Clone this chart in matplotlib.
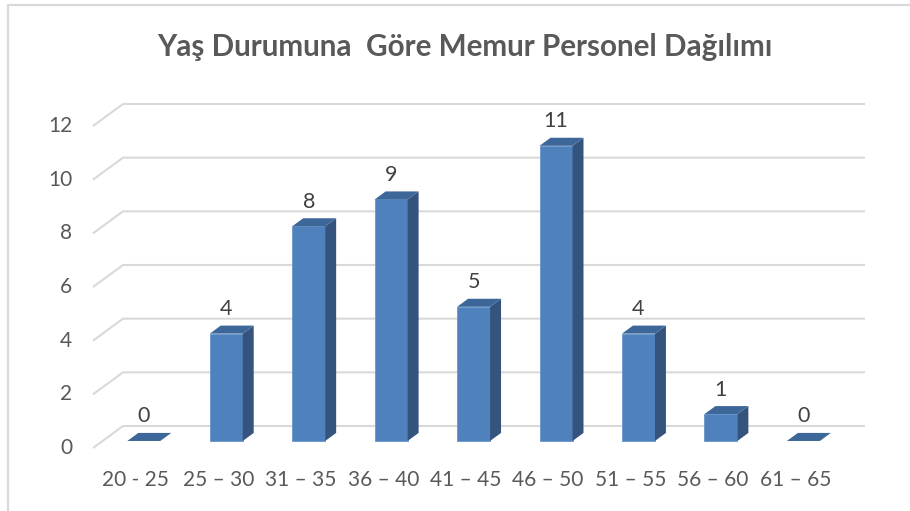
import matplotlib
matplotlib.use("Agg")
import matplotlib.pyplot as plt
from matplotlib.patches import Polygon
from matplotlib.lines import Line2D

plt.rcParams['font.family'] = ['Lato', 'DejaVu Sans']

# data
categories = ["20 - 25", "25 – 30", "31 – 35", "36 – 40", "41 – 45",
              "46 – 50", "51 – 55", "56 – 60", "61 – 65"]
counts = [0, 4, 8, 9, 5, 11, 4, 1, 0]
yticks = [0, 2, 4, 6, 8, 10, 12]
title = "Yaş Durumuna  Göre Memur Personel Dağılımı"

# fake 3d geometry (data units)
floor_dx, floor_dy = -0.364, -0.82     # back wall -> front edge
bar_dx, bar_dy = -0.2475, -0.558       # back wall -> bar front face
dep_dx, dep_dy = 0.133, 0.30           # bar depth
bar_w = 0.40

front_col = "#4F81BD"
side_col = "#34547E"
top_col = "#3D6798"
grid_col = "#D9D9D9"
text_col = "#595959"

fig = plt.figure(figsize=(9.1, 5.11), dpi=100)
# axes = back wall of the 3d box
ax = fig.add_axes([123/910, (511-426)/511, (865-123)/910, (426-104)/511])
ax.set_xlim(-0.5, len(categories) - 0.5)
ax.set_ylim(0, 12)
ax.axis("off")

# grid lines (slanted part on the side wall + flat part on the back wall)
x_left = -0.5
x_right = len(categories) - 0.5
for v in yticks:
    ax.plot([x_left + floor_dx, x_left, x_right], [v + floor_dy, v, v],
            color=grid_col, lw=1.5, clip_on=False, zorder=1,
            solid_capstyle="butt")
    ax.text(x_left + floor_dx - 0.25, v + floor_dy, str(v), ha="right",
            va="center", fontsize=15, color=text_col)

# bars
for i, v in enumerate(counts):
    x0 = i + bar_dx - bar_w / 2
    x1 = x0 + bar_w
    y0 = bar_dy
    y1 = bar_dy + v
    if v > 0:
        ax.bar(i + bar_dx, v, width=bar_w, bottom=bar_dy, color=front_col,
               edgecolor="#6A96CC", linewidth=0.6, clip_on=False, zorder=3)
        side = Polygon([(x1, y0), (x1 + dep_dx, y0 + dep_dy),
                        (x1 + dep_dx, y1 + dep_dy), (x1, y1)],
                       closed=True, facecolor=side_col, edgecolor="none",
                       clip_on=False, zorder=3)
        ax.add_patch(side)
    top = Polygon([(x0, y1), (x1, y1), (x1 + dep_dx, y1 + dep_dy),
                   (x0 + dep_dx, y1 + dep_dy)],
                  closed=True, facecolor=top_col, edgecolor="none",
                  clip_on=False, zorder=3)
    ax.add_patch(top)
    ax.text(i + bar_dx, v + 0.36, str(v), ha="center", va="center",
            fontsize=15.5, color="#404040", zorder=4)

# category labels along the front edge
for i, lab in enumerate(categories):
    ax.text(i + floor_dx + 0.02, floor_dy - 1.19, lab, ha="center",
            va="center", fontsize=15, color=text_col)

fig.text(465/910, 1 - 47/511, title, ha="center", va="center",
         fontsize=21.3, fontweight="bold", color=text_col)

# chart area border (left and top edges visible in the original)
fig.add_artist(Line2D([7.5/910, 7.5/910, 1.0], [0, 1 - 5/511, 1 - 5/511],
                      color=grid_col, lw=1.6))

fig.savefig("out.png", dpi=100)
